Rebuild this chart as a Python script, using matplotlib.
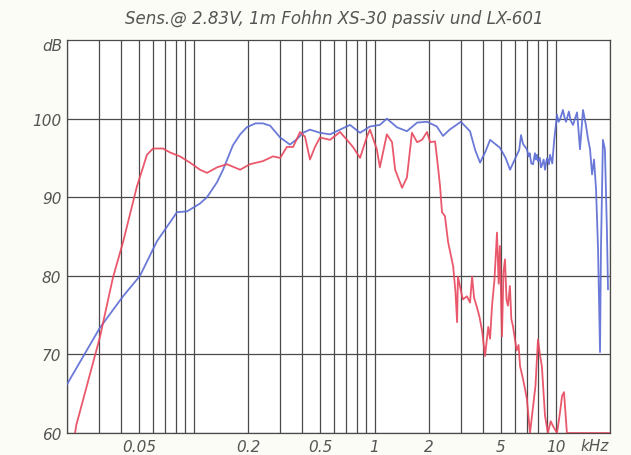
import matplotlib
matplotlib.use("Agg")
import matplotlib.pyplot as plt
from matplotlib.ticker import NullFormatter

# frequency axis in kHz, level in dB
title = "Sens.@ 2.83V, 1m Fohhn XS-30 passiv und LX-601"

xtick_vals = [0.05, 0.2, 0.5, 1, 2, 5, 10]
xtick_labels = ["0.05", "0.2", "0.5", "1", "2", "5", "10"]
ytick_vals = [60, 70, 80, 90, 100]

# LX-601 (blue)
blue_f = [0.020, 0.0304, 0.0408, 0.0506, 0.0628, 0.0741, 0.0810, 0.0921, 0.1086,
          0.1187, 0.1348, 0.1456, 0.165, 0.181, 0.197, 0.220, 0.242, 0.265, 0.301,
          0.341, 0.373, 0.403, 0.440, 0.500, 0.568, 0.645, 0.732, 0.832, 0.944,
          1.07, 1.17, 1.33, 1.51, 1.72, 1.95, 2.21, 2.39, 2.6, 3.0, 3.37, 3.6,
          3.83, 4.1, 4.35, 4.93, 5.3, 5.61, 5.9, 6.12, 6.3, 6.45, 6.61, 6.8, 6.95,
          7.1, 7.2, 7.35, 7.52, 7.7, 7.8, 7.9, 8.0, 8.2, 8.3, 8.4, 8.6, 8.75,
          8.9, 9.0, 9.2, 9.33, 9.6, 9.82, 10.19,
          10.4, 10.59, 10.99, 11.2, 11.43, 11.86, 12.1, 12.50, 13.15, 13.4,
          13.65, 14.19, 14.72, 15.1, 15.52, 15.92, 16.33, 16.75, 17.18, 17.62,
          17.83, 18.28, 18.75, 19.23, 19.50]
blue_db = [66.2, 73.4, 77.4, 80.0, 84.4, 86.8, 88.1, 88.2, 89.2,
           90.0, 91.9, 93.5, 96.6, 98.0, 98.9, 99.4, 99.4, 99.1, 97.6,
           96.7, 97.4, 98.2, 98.6, 98.2, 98.0, 98.6, 99.2, 98.2, 99.0,
           99.2, 100.0, 98.9, 98.4, 99.5, 99.6, 99.0, 97.8, 98.6, 99.6, 98.4, 96.0,
           94.4, 95.8, 97.3, 96.3, 95.0, 93.5, 94.6, 95.4, 96.0, 97.9, 96.8, 96.4, 96.1,
           95.2, 95.6, 94.3, 94.2, 95.6, 94.8, 95.4, 94.6, 95.0, 93.8, 94.0, 94.8, 93.5,
           94.6, 95.0, 94.2, 95.4, 94.3, 97.1, 100.5,
           99.6, 99.9, 101.1, 100.2, 99.6, 100.9, 99.8, 99.2, 100.8, 98.5,
           96.1, 101.1, 99.2, 97.5, 96.1, 92.9, 94.8, 91.0, 83.4, 70.3,
           83.4, 97.3, 96.1, 85.9, 78.3]

# XS-30 passiv (red)
red_f = [0.0218, 0.0225, 0.0304, 0.0359, 0.0408, 0.0487, 0.0526, 0.0553, 0.0597,
         0.0678, 0.0741, 0.0841, 0.0957, 0.1086, 0.1187, 0.1348, 0.153, 0.181,
         0.205, 0.242, 0.275, 0.301, 0.328, 0.355, 0.388, 0.413, 0.440, 0.469,
         0.500, 0.568, 0.645, 0.704, 0.760, 0.832, 0.908, 0.944, 1.03, 1.07,
         1.17, 1.25, 1.30, 1.42, 1.51, 1.61, 1.72, 1.83, 1.95, 2.03, 2.16, 2.21,
         2.30, 2.36, 2.45, 2.55, 2.72, 2.80, 2.86, 2.89, 3.04, 3.08, 3.24, 3.37,
         3.46, 3.55, 3.68, 3.80, 3.93, 4.08, 4.25, 4.35, 4.46, 4.60, 4.75, 4.85,
         4.93, 5.00, 5.06, 5.16, 5.26, 5.36, 5.46, 5.60, 5.70, 5.82, 6.10, 6.25,
         6.37, 6.61, 6.80, 6.95, 7.23, 7.52, 7.75, 8.00, 8.20, 8.41, 8.75, 9.08,
         9.40, 9.68, 10.19, 10.50, 10.87, 11.14, 11.56, 20.0]
red_db = [59.0, 61.0, 72.2, 79.8, 84.3, 91.4, 93.8, 95.4, 96.2,
          96.2, 95.7, 95.2, 94.4, 93.5, 93.1, 93.8, 94.2, 93.5,
          94.2, 94.6, 95.2, 95.0, 96.4, 96.4, 98.3, 97.7, 94.8, 96.4,
          97.6, 97.3, 98.3, 97.3, 96.4, 95.0, 97.7, 98.6, 96.1, 93.8,
          98.0, 97.0, 93.5, 91.2, 92.5, 98.2, 97.0, 97.3, 98.3, 97.0, 97.1, 95.2,
          91.5, 88.1, 87.6, 84.3, 81.2, 78.0, 74.1, 79.9, 77.5, 77.0, 77.4, 76.6,
          79.9, 77.2, 76.0, 74.8, 73.0, 69.8, 73.5, 72.0, 76.2, 79.5, 85.5, 79.0,
          83.8, 77.5, 72.3, 80.5, 82.1, 77.0, 76.2, 78.7, 74.5, 73.6, 70.5, 71.2,
          68.5, 66.9, 65.5, 64.3, 60.0, 63.4, 66.0, 71.9, 70.0, 68.5, 62.2, 60.0,
          61.5, 60.9, 60.0, 62.0, 64.7, 65.2, 60.0, 60.0]

grid_col = "#4a4a4a"
text_col = "#555555"

fig = plt.figure(figsize=(6.31, 4.56), dpi=100, facecolor="#fcfcf6")
ax = fig.add_axes([0.1062, 0.0482, 0.8605, 0.8618])
ax.set_facecolor("white")

ax.plot(blue_f, blue_db, color="#5b6bd4", lw=1.3, alpha=0.9, zorder=3)
ax.plot(red_f, red_db, color="#e8465c", lw=1.3, alpha=0.9, zorder=3)

ax.set_xscale("log")
ax.set_xlim(0.02, 20)
ax.set_ylim(60, 110)

# grid: every 1..9 per decade, every 10 dB
ax.set_xticks(xtick_vals)
ax.set_xticklabels(xtick_labels)
ax.set_xticks([m * d for d in [0.01, 0.1, 1, 10] for m in range(1, 10)
               if 0.02 <= m * d <= 20], minor=True)
ax.xaxis.set_minor_formatter(NullFormatter())
ax.set_yticks(ytick_vals)
ax.grid(True, which="both", axis="x", color=grid_col, lw=0.9)
ax.grid(True, which="major", axis="y", color=grid_col, lw=0.9)
ax.tick_params(which="both", length=0)
ax.tick_params(axis="x", pad=4, labelsize=11, labelcolor=text_col)
ax.tick_params(axis="y", pad=4, labelsize=11, labelcolor=text_col)
for lab in ax.get_xticklabels() + ax.get_yticklabels():
    lab.set_fontstyle("italic")
for s in ax.spines.values():
    s.set_color(grid_col)
    s.set_linewidth(0.9)

ax.text(13.8, -0.033, "kHz", transform=ax.get_xaxis_transform(), ha="left",
        va="center", fontsize=11, style="italic", color=text_col)
ax.text(-0.008, 0.985, "dB", transform=ax.transAxes, ha="right", va="center",
        fontsize=11, style="italic", color=text_col)
fig.text(0.53, 0.958, title, ha="center", va="center", fontsize=12,
         style="italic", color=text_col)

fig.savefig("out.png", dpi=100, facecolor=fig.get_facecolor())
